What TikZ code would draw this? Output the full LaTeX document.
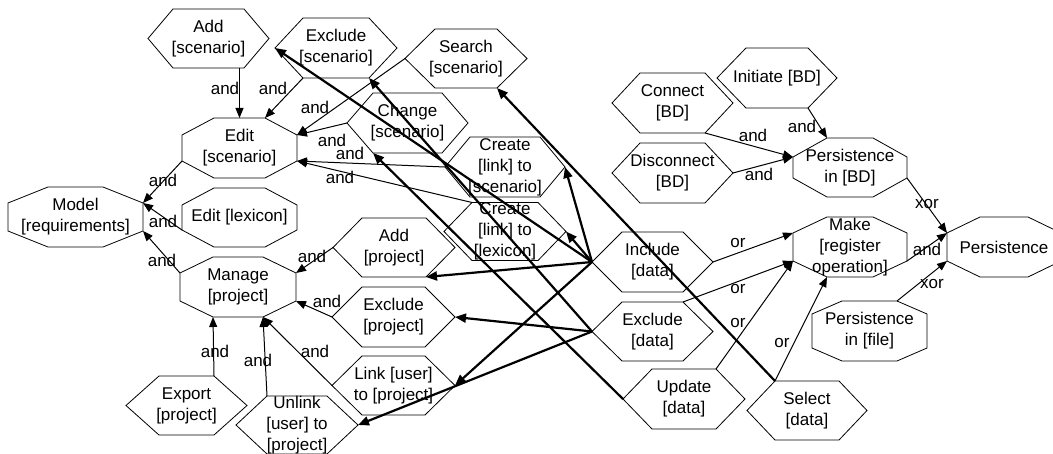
\documentclass[tikz,border=0pt]{standalone}
\usepackage{fontspec}
\setmainfont{Liberation Sans}
\usetikzlibrary{arrows.meta,calc}

\tikzset{
  shapebox/.style={draw=none, inner sep=0pt, outer sep=0pt},
  outline/.style={draw=black, line width=0.8pt, line join=miter},
  txt/.style={font=\fontsize{17}{21}\selectfont, align=center, inner sep=0pt},
  lbl/.style={font=\fontsize{17}{21}\selectfont, inner sep=0pt},
  andarrow/.style={line width=1pt, -{Triangle[length=10pt,width=8pt]}},
  dataarrow/.style={line width=2.2pt, -{Triangle[length=11pt,width=9pt]}},
}

% hexagon: name, centre, width, height, tip depth, text
\newcommand\hexnode[6]{%
  \node[shapebox, minimum width=#3pt, minimum height=#4pt] (#1) at (#2) {};
  \coordinate (#1-W) at (#1.west);
  \coordinate (#1-E) at (#1.east);
  \coordinate (#1-NW) at ($(#1.north west)+(#5,0)$);
  \coordinate (#1-NE) at ($(#1.north east)+(-#5,0)$);
  \coordinate (#1-SW) at ($(#1.south west)+(#5,0)$);
  \coordinate (#1-SE) at ($(#1.south east)+(-#5,0)$);
  \draw[outline] (#1-W) -- (#1-NW) -- (#1-NE) -- (#1-E) -- (#1-SE) -- (#1-SW) -- cycle;
  \node[txt] (#1-txt) at (#1.center) {#6};
}

% octagon: name, centre, width, height, corner dx, corner dy, text
\newcommand\octnode[7]{%
  \node[shapebox, minimum width=#3pt, minimum height=#4pt] (#1) at (#2) {};
  \coordinate (#1-t1) at ($(#1.north west)+(#5,0)$);
  \coordinate (#1-t2) at ($(#1.north east)+(-#5,0)$);
  \coordinate (#1-r1) at ($(#1.north east)+(0,#6)$);
  \coordinate (#1-r2) at ($(#1.south east)+(0,-#6)$);
  \coordinate (#1-b2) at ($(#1.south east)+(-#5,0)$);
  \coordinate (#1-b1) at ($(#1.south west)+(#5,0)$);
  \coordinate (#1-l2) at ($(#1.south west)+(0,-#6)$);
  \coordinate (#1-l1) at ($(#1.north west)+(0,#6)$);
  \draw[outline] (#1-t1) -- (#1-t2) -- (#1-r1) -- (#1-r2) -- (#1-b2) -- (#1-b1) -- (#1-l2) -- (#1-l1) -- cycle;
  \node[txt] (#1-txt) at (#1.center) {#7};
}

\begin{document}
\begin{tikzpicture}[x=1pt, y=-1pt]
\fill[white] (0,0) rectangle (1053,454);
\useasboundingbox (0,0) rectangle (1053,454);

% scenario editing
\hexnode{addsc}{208.5,38.5}{121}{59}{25}{Add\\{}[scenario]}
\hexnode{exclsc}{336,48}{122}{60}{28}{Exclude\\{}[scenario]}
\hexnode{searchsc}{466,58.5}{122}{59}{30}{Search\\{}[scenario]}
\hexnode{changesc}{407.5,123}{121}{60}{26}{Change\\{}[scenario]}
\hexnode{createsc}{505,167}{120}{60}{25}{Create\\{}[link] to\\{}[scenario]}
\hexnode{createlx}{505,231.5}{122}{58}{28}{Create\\{}[link] to\\{}[lexicon]}
\octnode{editsc}{239.5,148}{115}{60}{32}{17}{Edit\\{}[scenario]}
\octnode{editlx}{239.5,217.5}{115}{59}{32}{17}{Edit [lexicon]}
\octnode{model}{75.5,217}{135}{60}{40}{16}{Model\\{}[requirements]}

% project management
\octnode{manage}{238,287}{116}{60}{33}{16}{Manage\\{}[project]}
\hexnode{addpr}{394,247.5}{122}{59}{29}{Add\\{}[project]}
\hexnode{exclpr}{393.5,317}{123}{60}{30}{Exclude\\{}[project]}
\hexnode{linkpr}{393.5,385.5}{123}{59}{30}{Link [user]\\to [project]}
\hexnode{exportpr}{186.5,405.5}{121}{59}{33}{Export\\{}[project]}
\hexnode{unlinkpr}{297,425}{122}{58}{31}{Unlink\\{}[user] to\\{}[project]}

% data operations
\hexnode{incl}{652.5,262}{121}{60}{30}{Include\\{}[data]}
\hexnode{excld}{652.5,331.5}{121}{59}{30}{Exclude\\{}[data]}
\hexnode{upd}{684,399}{122}{60}{29}{Update\\{}[data]}
\hexnode{sel}{807,410.5}{120}{59}{28}{Select\\{}[data]}

% persistence
\hexnode{conn}{672.5,103}{121}{60}{28}{Connect\\{}[BD]}
\hexnode{disc}{672.5,173}{121}{60}{28}{Disconnect\\{}[BD]}
\hexnode{init}{777,78}{120}{60}{29}{Initiate [BD]}
\octnode{persbd}{850,167.5}{114}{59}{34}{19}{Persistence\\in [BD]}
\octnode{make}{850,247}{114}{60}{34}{16}{Make\\{}[register\\operation]}
\octnode{persfile}{869.5,331}{115}{60}{30}{13}{Persistence\\in [file]}
\octnode{pers}{1004,247}{114}{60}{33}{16}{Persistence}

% decomposition links
\draw[andarrow] (editsc.north |- addsc.south) -- (editsc.north);
\node[lbl] (la1) at (225,88) {and};
\draw[andarrow] (exclsc-SW) -- (editsc-t2);
\node[lbl] (la2) at (273,88) {and};
\draw[andarrow] (searchsc-W) -- (editsc-r1);
\node[lbl] (la3) at (315,107) {and};
\draw[andarrow] (changesc-W) -- (editsc-r1);
\node[lbl] (la4) at (332,140) {and};
\draw[andarrow] (createsc-W) -- (editsc-r2);
\node[lbl] (la5) at (350,153) {and};
\draw[andarrow] (createlx-NW) -- (editsc-r2);
\node[lbl] (la6) at (340,177) {and};
\draw[andarrow] (editsc-l2) -- (model-r1);
\node[lbl] (la7) at (163,180) {and};
\draw[andarrow] (editlx-l2) -- (model-r1);
\node[lbl] (la8) at (163,221) {and};
\draw[andarrow] (manage-l1) -- (model-r2);
\node[lbl] (la9) at (162,260) {and};
\draw[andarrow] (addpr-W) -- (manage-r1);
\node[lbl] (la10) at (312,256) {and};
\draw[andarrow] (exclpr-W) -- (manage-r2);
\node[lbl] (la11) at (327,301) {and};
\draw[andarrow] (linkpr-W) -- (manage-b2);
\node[lbl] (la12) at (315,351) {and};
\draw[andarrow] (exportpr-NE) -- (manage-b1);
\node[lbl] (la13) at (215,351) {and};
\draw[andarrow] (unlinkpr-NW) -- (manage-b2);
\node[lbl] (la14) at (258,360) {and};

\draw[andarrow] (incl-E) -- (make-l1);
\node[lbl] (lo1) at (738,243) {or};
\draw[andarrow] (excld-NE) -- (make-l2);
\node[lbl] (lo2) at (738,289) {or};
\draw[andarrow] (upd-NE) -- (make-l2);
\node[lbl] (lo3) at (738,323) {or};
\draw[andarrow] (sel-NW) -- (make-b1);
\node[lbl] (lo4) at (782,343) {or};

\draw[andarrow] (conn-SE) -- (persbd-l1);
\node[lbl] (lp1) at (753,135) {and};
\draw[andarrow] (disc-E) -- (persbd-l1);
\node[lbl] (lp2) at (759,174) {and};
\draw[andarrow] (init-SE) -- (persbd-t1);
\node[lbl] (lp3) at (802,126) {and};
\draw[andarrow] (persbd-r2) -- (pers-l1);
\node[lbl] (lp4) at (927,204) {xor};
\draw[andarrow] (make-r2) -- (pers-l1);
\node[lbl] (lp5) at (927,249) {and};
\draw[andarrow] (persfile-t2) -- (pers-l2);
\node[lbl] (lp6) at (932,284) {xor};

% data operations acting on the model
\draw[dataarrow] (incl-W) -- (exclsc-W);
\draw[dataarrow] (incl-W) -- (createsc-E);
\draw[dataarrow] (incl-W) -- (createlx-E);
\draw[dataarrow] (incl-W) -- (addpr-SE);
\draw[dataarrow] (incl-W) -- (linkpr-E);
\draw[dataarrow] (excld-W) -- (exclsc-SE);
\draw[dataarrow] (excld-W) -- (exclpr-E);
\draw[dataarrow] (excld-W) -- (unlinkpr-E);
\draw[dataarrow] (upd-W) -- (changesc-SW);
\draw[dataarrow] (sel-NW) -- (searchsc-SE);
\end{tikzpicture}
\end{document}
